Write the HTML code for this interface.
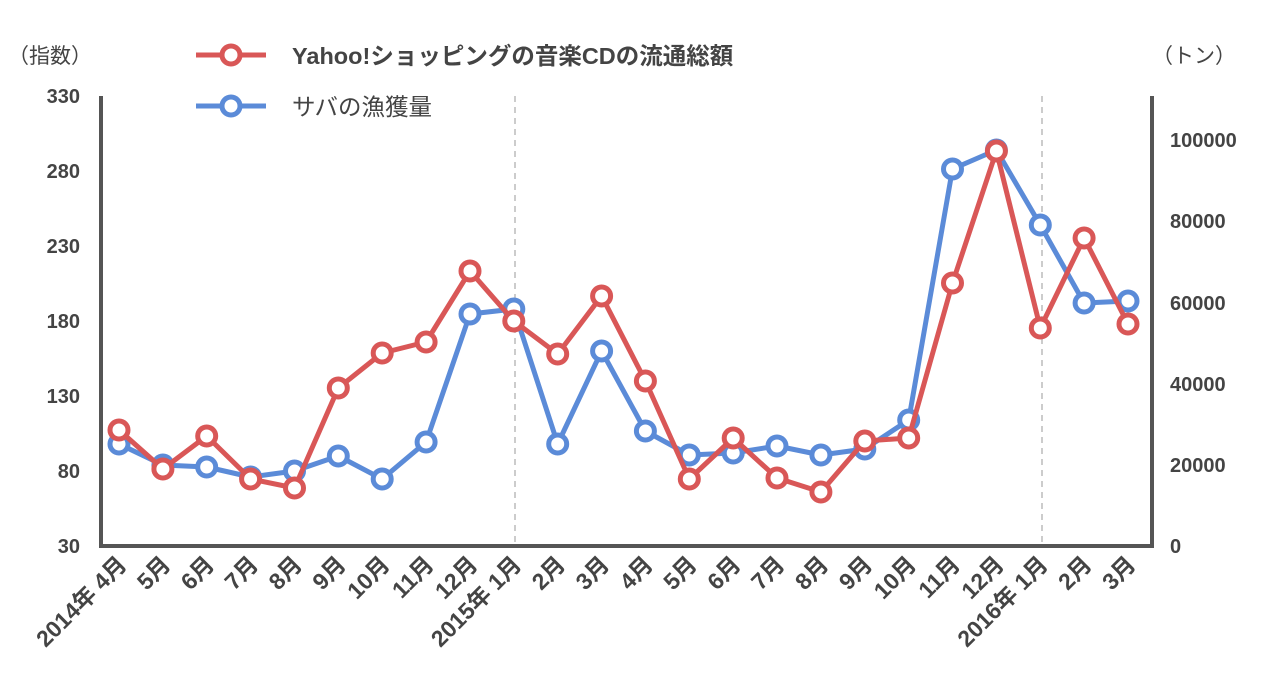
<!DOCTYPE html>
<html><head><meta charset="utf-8"><style>
body{margin:0;background:#fff;}
svg text{font-family:"Liberation Sans","Noto Sans CJK JP",sans-serif;fill:#444;}
</style></head><body>
<svg width="1280" height="681" xmlns="http://www.w3.org/2000/svg">
<line x1="515" y1="96" x2="515" y2="546" stroke="#ccc" stroke-width="2" stroke-dasharray="6,5"/>
<line x1="1042" y1="96" x2="1042" y2="546" stroke="#ccc" stroke-width="2" stroke-dasharray="6,5"/>
<path d="M101 96 V546 H1152 V96" fill="none" stroke="#555" stroke-width="4"/>
<g font-size="20" font-weight="bold" text-anchor="end">
<text x="80" y="103">330</text><text x="80" y="178">280</text><text x="80" y="253">230</text><text x="80" y="328">180</text><text x="80" y="403">130</text><text x="80" y="478">80</text><text x="80" y="553">30</text>
</g>
<g font-size="20" font-weight="bold" text-anchor="start">
<text x="1170" y="147">100000</text><text x="1170" y="228">80000</text><text x="1170" y="310">60000</text><text x="1170" y="391">40000</text><text x="1170" y="472">20000</text><text x="1170" y="553">0</text>
</g>
<text x="8" y="63" font-size="21">（指数）</text>
<text x="1152" y="63" font-size="21">（トン）</text>
<line x1="196" y1="55" x2="266" y2="55" stroke="#d95757" stroke-width="5"/>
<circle cx="231" cy="55" r="9" fill="#fff" stroke="#d95757" stroke-width="5"/>
<text x="292" y="64" font-size="23.5" font-weight="bold">Yahoo!ショッピングの音楽CDの流通総額</text>
<line x1="196" y1="106" x2="266" y2="106" stroke="#5b8bd8" stroke-width="5"/>
<circle cx="231" cy="106" r="9" fill="#fff" stroke="#5b8bd8" stroke-width="5"/>
<text x="292" y="115" font-size="23.5">サバの漁獲量</text>
<g id="pts"></g>
</svg>
<script>
var xs=[],n=24;for(var i=0;i<n;i++)xs.push(119+i*(1128-119)/23);
var blue=[444,465,467,477,471,456,479,442,314,309,444,351,431,455,453,446,455,449,420,169,150,225,303,301];
var red=[430,469,436,479,488,388,353,342,271,321,354,296,381,479,438,478,492,441,438,283,151,328,238,324];
var labels=["2014年 4月","5月","6月","7月","8月","9月","10月","11月","12月","2015年 1月","2月","3月","4月","5月","6月","7月","8月","9月","10月","11月","12月","2016年 1月","2月","3月"];
var g=document.getElementById('pts'),s='';
function series(v,c){var d='';for(var i=0;i<n;i++)d+=(i?'L':'M')+xs[i].toFixed(1)+' '+v[i];
s+='<path d="'+d+'" fill="none" stroke="'+c+'" stroke-width="5" stroke-linejoin="round"/>';
for(var i=0;i<n;i++)s+='<circle cx="'+xs[i].toFixed(1)+'" cy="'+v[i]+'" r="9" fill="#fff" stroke="'+c+'" stroke-width="5"/>';}
series(blue,'#5b8bd8');series(red,'#d95757');
for(var i=0;i<n;i++){var x=xs[i]+9,y=566;s+='<text font-size="23" font-weight="bold" text-anchor="end" transform="translate('+x.toFixed(1)+','+y+') rotate(-45)">'+labels[i]+'</text>';}
g.innerHTML=s;
</script>
</body></html>
